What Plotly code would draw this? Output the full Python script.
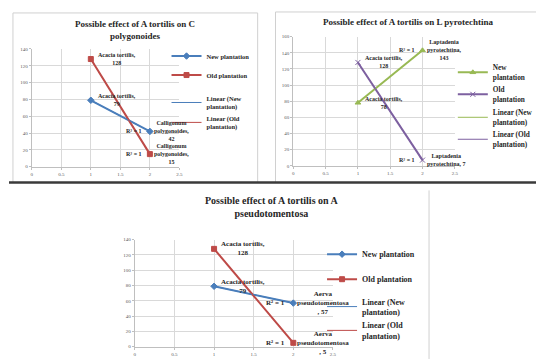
import numpy as np
import plotly.graph_objects as go

# ---------------- data ----------------
x_points = [1, 2]

p1_new = [79, 42]
p1_old = [128, 15]
p1_names = ["Acacia tortilis,", "Calligonum<br>polygonoides,"]

p2_new = [78, 143]
p2_old = [128, 7]
p2_names_new = ["Acacia tortilis,", "Laptadenia<br>pyrotechtina,"]
p2_names_old = ["Acacia tortilis,", "Laptadenia<br>pyrotechtina,"]

p3_new = [79, 57]
p3_old = [128, 5]
p3_names = ["Acacia tortilis,", "Aerva<br>pseudotomentosa<br>"]

titles = ["Possible effect of A tortilis on C<br>polygonoides",
          "Possible effect of A tortilis on L pyrotechtina",
          "Possible effect of A tortilis on A<br>pseudotomentosa"]

x_ticks = [0, 0.5, 1, 1.5, 2, 2.5]

# the page body has an 8px default margin, so the figure is drawn 8px in
OFF = 8
W, H = 544 - OFF, 360 - OFF
BLUE, RED, GREEN, PURPLE = "#4A7EBB", "#BE4B48", "#98B954", "#7D60A0"
SERIF = "Liberation Serif"

def px(v):
    return (v - OFF) / W

def py(v):
    return 1 - (v - OFF) / H

fig = go.Figure()

# legend grouping per panel: (new, old, trend-new, trend-old)
panels = [
    dict(ax="", new=p1_new, old=p1_old, names_new=p1_names, names_old=p1_names,
         cnew=BLUE, cold=RED, mnew="diamond", mold="square", legend="legend",
         newname="New plantation", oldname="Old plantation",
         lnew="Linear (New<br>plantation)", lold="Linear (Old<br>plantation)",
         sep_last_new="<br>", sep_last_old="<br>", lfs=6,
         groups=dict(new="a", old="a", lnew="b", lold="b")),
    dict(ax="2", new=p2_new, old=p2_old, names_new=p2_names_new, names_old=p2_names_old,
         cnew=GREEN, cold=PURPLE, mnew="triangle-up", mold="x-thin", legend="legend2",
         newname="New<br>plantation", oldname="Old<br>plantation",
         lnew="Linear (New<br>plantation)", lold="Linear (Old<br>plantation)",
         sep_last_new="<br>", sep_last_old=" ", lfs=6,
         groups=dict(new="a", old="a", lnew="b", lold="b")),
    dict(ax="3", new=p3_new, old=p3_old, names_new=p3_names, names_old=p3_names,
         cnew=BLUE, cold=RED, mnew="diamond", mold="square", legend="legend3",
         newname="New plantation", oldname="Old plantation",
         lnew="Linear (New<br>plantation)", lold="Linear (Old<br>plantation)",
         sep_last_new=", ", sep_last_old=", ", lfs=7,
         groups=dict(new="a", old="b", lnew="c", lold="c")),
]

annotations = []
for i, p in enumerate(panels):
    xa = "x" + p["ax"]
    ya = "y" + p["ax"]
    for key, col, sym, nm, names, sep in [
        ("new", p["cnew"], p["mnew"], p["newname"], p["names_new"], p["sep_last_new"]),
        ("old", p["cold"], p["mold"], p["oldname"], p["names_old"], p["sep_last_old"]),
    ]:
        vals = p[key]
        fig.add_trace(go.Scatter(
            x=x_points, y=vals, mode="lines+markers", name=f"<b>{nm}</b>",
            line=dict(color=col, width=2),
            marker=dict(symbol=sym, size=5, color=col, line=dict(color=col, width=1)),
            xaxis=xa, yaxis=ya, legend=p["legend"], legendgroup=f"{i}{p['groups'][key]}",
            hoverinfo="skip"))
        # data labels
        for j, (xv, yv) in enumerate(zip(x_points, vals)):
            s = "<br>" if j == 0 else sep
            annotations.append(dict(
                x=xv, y=yv, xref=xa, yref=ya, text=f"<b>{names[j]}{s}{yv}</b>",
                showarrow=False, xanchor="left", yanchor="middle",
                xshift=5 if j == 0 else 2,
                align="center", font=dict(family=SERIF, size=p["lfs"], color="#262626")))
    for key, col, lnm in [("new", p["cnew"], p["lnew"]), ("old", p["cold"], p["lold"])]:
        vals = p[key]
        coef = np.polyfit(x_points, vals, 1)
        fit = np.polyval(coef, x_points)
        ss_res = float(np.sum((np.array(vals) - fit) ** 2))
        ss_tot = float(np.sum((np.array(vals) - np.mean(vals)) ** 2))
        r2 = 1 - ss_res / ss_tot
        fig.add_trace(go.Scatter(
            x=x_points, y=fit, mode="lines", name=f"<b>{lnm}</b>",
            line=dict(color=col, width=1),
            xaxis=xa, yaxis=ya, legend=p["legend"],
            legendgroup=f"{i}{p['groups']['l' + key]}",
            hoverinfo="skip"))
        annotations.append(dict(
            x=x_points[-1], y=fit[-1], xref=xa, yref=ya,
            text=f"<b>R² = {r2:.0f}</b>", showarrow=False, xanchor="right",
            yanchor="middle", xshift=-6,
            font=dict(family=SERIF, size=p["lfs"], color="#262626")))

axis_common = dict(showgrid=True, gridcolor="#d9d9d9", gridwidth=1, showline=True,
                   linecolor="#bfbfbf", linewidth=1, ticks="outside", ticklen=2,
                   tickcolor="#bfbfbf", zeroline=False,
                   tickfont=dict(family=SERIF, size=5, color="#595959"))

fig.update_layout(
    xaxis=dict(domain=[px(31), px(180)], range=[0, 2.5], tickvals=x_ticks, anchor="y", **axis_common),
    yaxis=dict(domain=[py(167), py(47.5)], range=[0, 140], dtick=20, anchor="x", **axis_common),
    xaxis2=dict(domain=[px(295), px(458)], range=[0, 2.5], tickvals=x_ticks, anchor="y2", **axis_common),
    yaxis2=dict(domain=[py(166), py(35)], range=[0, 160], dtick=20, anchor="x2", **axis_common),
    xaxis3=dict(domain=[px(135), px(335)], range=[0, 2.5], tickvals=x_ticks, anchor="y3", **axis_common),
    yaxis3=dict(domain=[py(349.5), py(241)], range=[0, 140], dtick=20, anchor="x3", **axis_common),
)

leg_common = dict(xanchor="left", yanchor="top", bgcolor="rgba(0,0,0,0)",
                  traceorder="grouped", itemwidth=30)
fig.update_layout(
    legend=dict(x=px(167), y=py(40), tracegroupgap=8,
                font=dict(family=SERIF, size=6.5, color="#262626"), **leg_common),
    legend2=dict(x=px(456), y=py(55), tracegroupgap=1,
                 font=dict(family=SERIF, size=7.3, color="#262626"), **leg_common),
    legend3=dict(x=px(324), y=py(241), tracegroupgap=6,
                 font=dict(family=SERIF, size=8, color="#262626"), **leg_common),
)

# titles
for t, (cx, cy, fs) in zip(titles, [(135, 28, 9), (411, 20, 9), (273, 208, 10)]):
    annotations.append(dict(x=px(cx), y=py(cy), xref="paper", yref="paper", text=f"<b>{t}</b>",
                            showarrow=False, xanchor="center", yanchor="middle",
                            font=dict(family=SERIF, size=fs, color="#262626")))

shapes = [
    dict(type="rect", xref="paper", yref="paper", x0=px(12), x1=px(259), y0=py(183), y1=py(11),
         line=dict(color="#d0d0d0", width=1)),
    dict(type="rect", xref="paper", yref="paper", x0=px(277), x1=px(550), y0=py(183), y1=py(10),
         line=dict(color="#d0d0d0", width=1)),
    dict(type="line", xref="paper", yref="paper", x0=px(8), x1=px(546), y0=py(183), y1=py(183),
         line=dict(color="#3a3a3a", width=2.5)),
    dict(type="line", xref="paper", yref="paper", x0=px(432), x1=px(432), y0=py(191), y1=py(362),
         line=dict(color="#d0d0d0", width=1)),
]

fig.update_layout(width=W, height=H, margin=dict(l=0, r=0, t=0, b=0), autosize=False,
                  paper_bgcolor="white", plot_bgcolor="white",
                  annotations=annotations, shapes=shapes, showlegend=True)

fig.write_html("out.html")
